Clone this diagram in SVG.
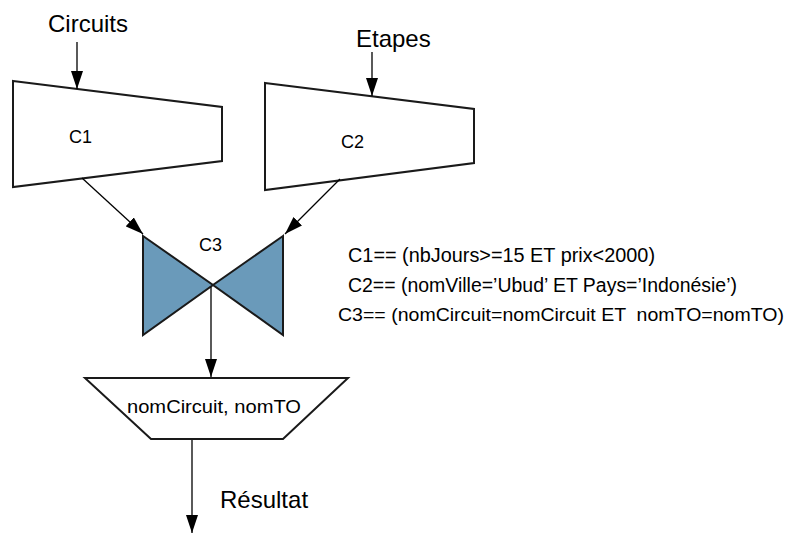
<svg xmlns="http://www.w3.org/2000/svg" width="793" height="533" viewBox="0 0 793 533">
  <defs>
    <marker id="arrow" markerUnits="userSpaceOnUse" markerWidth="19" markerHeight="12" refX="18" refY="6" orient="auto">
      <path d="M0,0 L18,6 L0,12 Z" fill="#000"/>
    </marker>
  </defs>
  <style>
    .shape { fill: #fff; stroke: #1a1a1a; stroke-width: 2; stroke-linejoin: miter; }
    .join { fill: #6a9aba; stroke: #1a1a1a; stroke-width: 2; }
    .edge { fill: none; stroke: #000; stroke-width: 1.3; marker-end: url(#arrow); }
    .title { font-family: "Liberation Sans", Arial, sans-serif; font-size: 24px; fill: #000; }
    .label { font-family: "Liberation Sans", Arial, sans-serif; font-size: 18px; fill: #000; }
    .cond { font-family: "Liberation Sans", Arial, sans-serif; font-size: 20px; fill: #000; white-space: pre; }
    .cond.long { font-size: 19px; }
  </style>

  <rect width="793" height="533" fill="#fff"/>

  <!-- relation inputs -->
  <text class="title" x="48" y="32">Circuits</text>
  <text class="title" x="356" y="47">Etapes</text>

  <!-- selection C1 on Circuits -->
  <g id="sel-c1">
    <polygon class="shape" points="13,81 222,107 222,161 13,187"/>
    <text class="label" x="69" y="143">C1</text>
  </g>

  <!-- selection C2 on Etapes -->
  <g id="sel-c2">
    <polygon class="shape" points="265,83 474,109 474,163 265,190"/>
    <text class="label" x="341" y="148">C2</text>
  </g>

  <!-- join C3 -->
  <g id="join-c3">
    <polygon class="join" points="143,236 213,285 143,335"/>
    <polygon class="join" points="283,236 213,285 283,335"/>
    <text class="label" x="199" y="251">C3</text>
  </g>

  <!-- projection -->
  <g id="projection">
    <polygon class="shape" points="85,378 348,378 283,439 151,439"/>
    <text class="label" x="127" y="413" textLength="174" lengthAdjust="spacingAndGlyphs">nomCircuit, nomTO</text>
  </g>

  <!-- connectors -->
  <g id="connectors">
    <line class="edge" x1="77" y1="42" x2="77" y2="89"/>
    <line class="edge" x1="372" y1="52" x2="372" y2="96"/>
    <line class="edge" x1="82" y1="178" x2="143" y2="234"/>
    <line class="edge" x1="340" y1="179" x2="285" y2="234"/>
    <line class="edge" x1="211" y1="287" x2="211" y2="377"/>
    <line class="edge" x1="192" y1="440" x2="192" y2="533"/>
  </g>

  <text class="title" x="220" y="508">Résultat</text>

  <!-- predicates -->
  <g id="conditions">
    <text class="cond" x="348" y="262" textLength="307" lengthAdjust="spacingAndGlyphs">C1== (nbJours&gt;=15 ET prix&lt;2000)</text>
    <text class="cond" x="348" y="292" textLength="389" lengthAdjust="spacingAndGlyphs">C2== (nomVille=’Ubud’ ET Pays=’Indonésie’)</text>
    <text class="cond long" x="338" y="321" textLength="446" lengthAdjust="spacingAndGlyphs" xml:space="preserve">C3== (nomCircuit=nomCircuit ET  nomTO=nomTO)</text>
  </g>
</svg>
